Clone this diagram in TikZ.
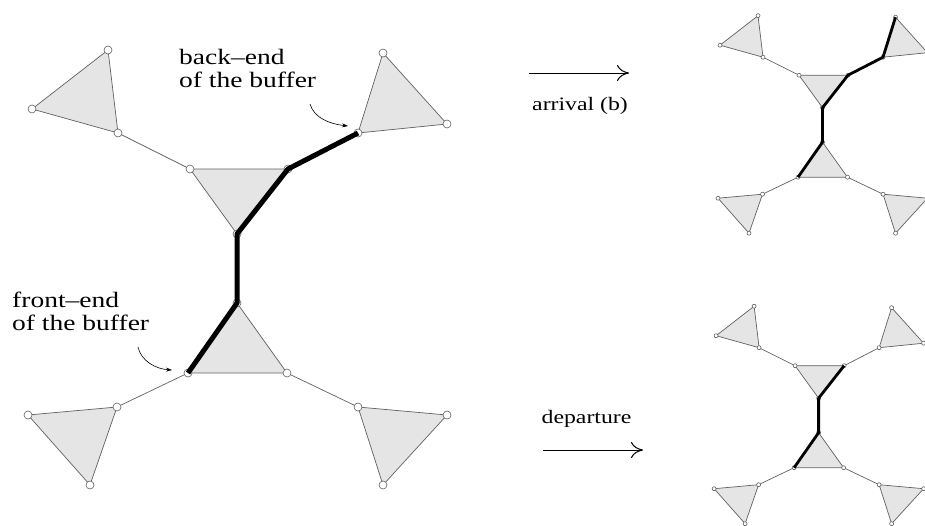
\documentclass[tikz,border=0pt]{standalone}
\usepackage{fontspec}
\setmainfont{Liberation Serif}[FakeStretch=1.25]
\usepackage{xcolor}
\usetikzlibrary{positioning, arrows.meta, calc}

\definecolor{trifill}{gray}{0.9}
\definecolor{edgegray}{gray}{0.38}

\tikzset{
  tri/.style={draw=edgegray, fill=trifill, line width=0.7pt, line join=round},
  link/.style={draw=edgegray, line width=0.7pt},
  vtx/.style={draw=edgegray, fill=white, line width=0.6pt},
  buffer/.style={draw=black, line width=#1, line join=round},
  biglbl/.style={font=\fontsize{22}{23}\selectfont, inner sep=0pt, align=left},
  smalllbl/.style={font=\fontsize{19}{21}\selectfont, inner sep=0pt},
  pointer/.style={-{Stealth[length=6pt,width=4pt]}, line width=0.6pt},
  move/.style={-{Computer Modern Rightarrow[length=12pt,width=16pt]}, line width=1pt}
}

% one network of triangles, vertices named #1-...
\newcommand{\buffnet}[1]{%
  \coordinate (#1-tla) at (108,50);
  \coordinate (#1-tlb) at (32,109);
  \coordinate (#1-tlc) at (118,133);
  \coordinate (#1-ctl) at (190,169);
  \coordinate (#1-ctr) at (288,169);
  \coordinate (#1-ctb) at (237,234);
  \coordinate (#1-tra) at (383,53);
  \coordinate (#1-trb) at (447,124);
  \coordinate (#1-trc) at (358,133);
  \coordinate (#1-cbt) at (237,303);
  \coordinate (#1-cbl) at (188,373);
  \coordinate (#1-cbr) at (287,373);
  \coordinate (#1-blc) at (117,407);
  \coordinate (#1-blb) at (28,415);
  \coordinate (#1-bla) at (90,485);
  \coordinate (#1-brc) at (358,407);
  \coordinate (#1-brb) at (447,415);
  \coordinate (#1-bra) at (383,485);
  \foreach \a/\b/\c in {tla/tlb/tlc, ctl/ctr/ctb, tra/trb/trc,
                        cbt/cbl/cbr, blc/blb/bla, brc/brb/bra}
    \path[tri] (#1-\a) -- (#1-\b) -- (#1-\c) -- cycle;
  \foreach \u/\v in {tlc/ctl, ctr/trc, ctb/cbt, cbl/blc, cbr/brc}
    \draw[link] (#1-\u) -- (#1-\v);
  \foreach \p in {tla, tlb, tlc, ctl, ctr, ctb, tra, trb, trc,
                  cbt, cbl, cbr, blc, blb, bla, brc, brb, bra}
    \draw[vtx] (#1-\p) circle (4);
}

\begin{document}
\begin{tikzpicture}[x=1pt, y=-1pt]
  \useasboundingbox (0,0) rectangle (925,525);
  \clip (0,0) rectangle (925,525);

  % main network
  \buffnet{m}
  \draw[buffer=5pt] (m-cbl) -- (m-cbt) -- (m-ctb) -- (m-ctr) -- (m-trc);

  \node[biglbl, anchor=north west] (backlbl) at (179,49) {back--end\\of the buffer};
  \node[biglbl, anchor=north west] (frontlbl) at (12,292) {front--end\\of the buffer};
  \coordinate (backs) at (310,104);
  \coordinate (fronts) at (138,347);
  \draw[pointer] (backs) .. controls +(4,14) and +(-18,-2) .. ($(m-trc)+(-10,-7)$);
  \draw[pointer] (fronts) .. controls +(3,14) and +(-16,-1) .. ($(m-cbl)+(-16,-3)$);

  % after an arrival
  \begin{scope}[shift={(704,-9.3)}, scale=0.5]
    \buffnet{a}
  \end{scope}
  \draw[buffer=2.8pt] (a-cbl) -- (a-cbt) -- (a-ctb) -- (a-ctr) -- (a-trc) -- (a-tra);

  % after a departure
  \begin{scope}[shift={(700.1,281.2)}, scale=0.5]
    \buffnet{d}
  \end{scope}
  \draw[buffer=2.8pt] (d-cbl) -- (d-cbt) -- (d-ctb) -- (d-ctr);

  % moves
  \coordinate (arrs) at (529,73);
  \coordinate (arre) at (629,73);
  \draw[move] (arrs) -- (arre);
  \node[smalllbl, anchor=base] (arrlbl) at (580,110) {arrival (b)};
  \coordinate (deps) at (543,450);
  \coordinate (depe) at (643,450);
  \draw[move] (deps) -- (depe);
  \node[smalllbl, anchor=base] (deplbl) at (586.5,423) {departure};
\end{tikzpicture}
\end{document}
